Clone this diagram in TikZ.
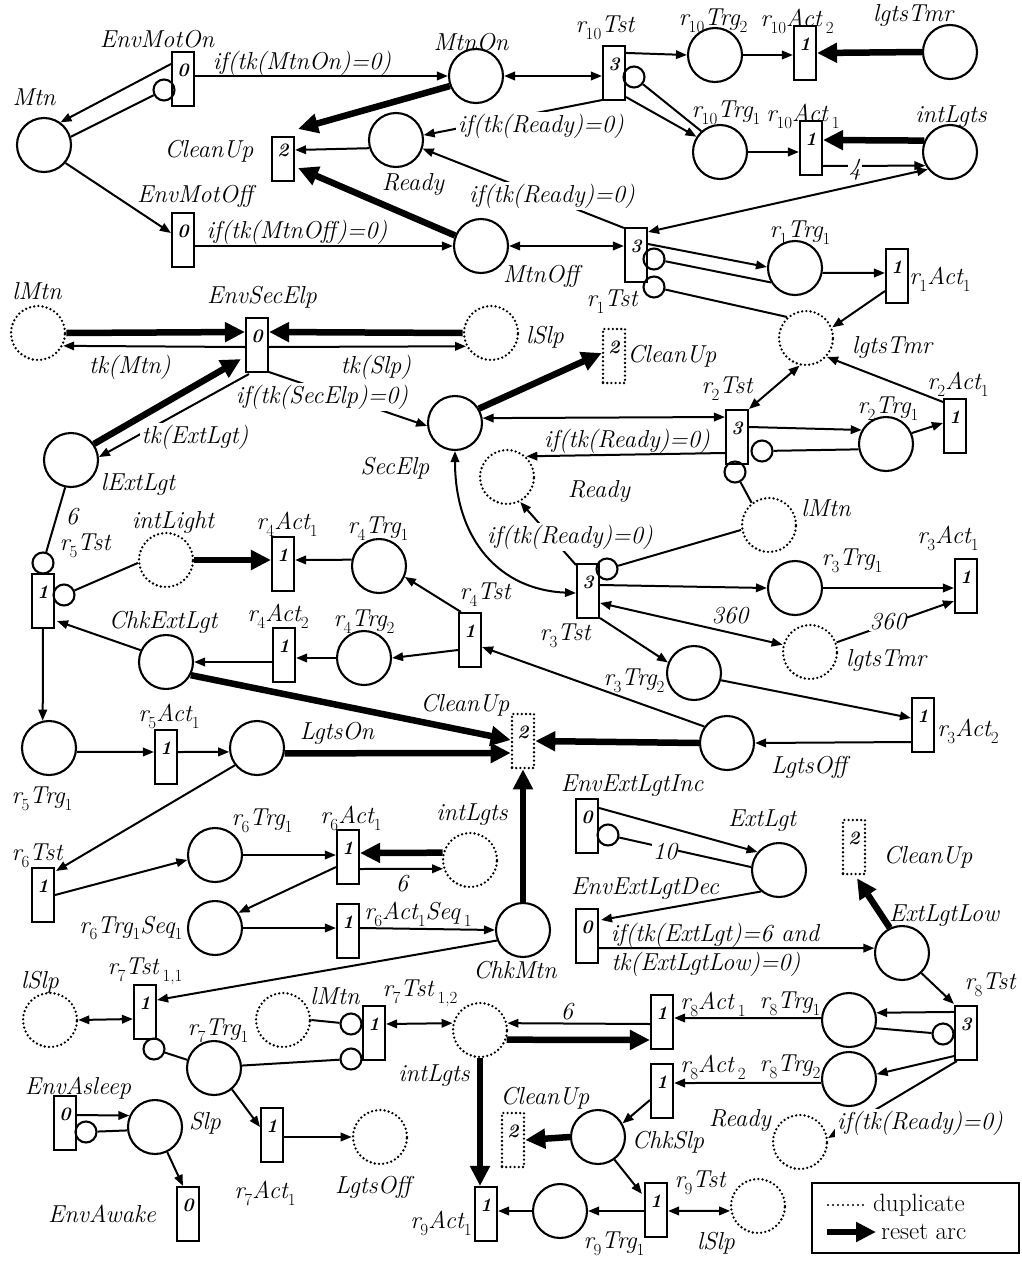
\documentclass[tikz,border=0pt]{standalone}
\usepackage{fontspec}
\usetikzlibrary{arrows.meta,calc}
\newcommand\subs[1]{\raisebox{-0.28em}{\fontsize{17}{17}\selectfont\upshape #1}}
\tikzset{
 place/.style={draw, circle, minimum size=54pt, inner sep=0pt, line width=2.1pt},
 dplace/.style={place, dash pattern=on 0pt off 4.2pt, line cap=round, line width=2.6pt},
 trans/.style={draw, rectangle, minimum width=22pt, minimum height=54pt, inner sep=0pt, line width=2.1pt, font=\fontsize{19}{19}\selectfont\bfseries\itshape, text height=7pt, text depth=12pt},
 dtrans/.style={trans, dash pattern=on 0pt off 4.2pt, line cap=round, line width=2.6pt},
 inh/.style={draw, circle, minimum size=21pt, inner sep=0pt, line width=2.1pt},
 lab/.style={font=\fontsize{24.5}{27}\selectfont\itshape, inner sep=1pt},
 wlab/.style={lab, fill=white, inner sep=2pt},
 legt/.style={font=\fontsize{25}{27}\selectfont, inner sep=0pt},
 aline/.style={line width=2pt},
 aarr/.style={aline, -{Triangle[length=11pt,width=8.5pt]}},
 adbl/.style={aline, {Triangle[length=11pt,width=8.5pt]}-{Triangle[length=11pt,width=8.5pt]}},
 areset/.style={line width=6.5pt, -{Triangle[length=20pt,width=19pt]}},
}
\begin{document}
\begin{tikzpicture}[x=1pt,y=-1pt]
\useasboundingbox (0,0) rectangle (1021,1261);
% ---------- places ----------
\node[place] (Mtn) at (44,145) {};
\node[place] (MtnOn) at (476,76) {};
\node[place] (MtnOff) at (481,246) {};
\node[place] (Ready) at (396,140) {};
\node[place] (r10Trg2) at (715,55) {};
\node[place] (lgtsTmrA) at (950,52) {};
\node[place] (r10Trg1) at (720,152) {};
\node[place] (intLgtsA) at (950,152) {};
\node[place] (r1Trg1) at (795,268) {};
\node[place] (SecElp) at (455,423) {};
\node[place] (r2Trg1) at (886,444) {};
\node[place] (lExtLgt) at (71,460) {};
\node[place] (r4Trg1) at (379,566) {};
\node[place] (r3Trg1) at (795,588) {};
\node[place] (r3Trg2) at (694,673) {};
\node[place] (r4Trg2) at (364,658) {};
\node[place] (ChkExtLgt) at (166,662) {};
\node[place] (LgtsOff) at (727,743) {};
\node[place] (r5Trg1) at (49,748) {};
\node[place] (LgtsOn) at (257,748) {};
\node[place] (r6Trg1) at (215,855) {};
\node[place] (ExtLgt) at (779,870) {};
\node[place] (r6Trg1Seq1) at (215,928) {};
\node[place] (ChkMtn) at (523,930) {};
\node[place] (ExtLgtLow) at (902,953) {};
\node[place] (r8Trg1) at (849,1020) {};
\node[place] (r8Trg2) at (849,1079) {};
\node[place] (r7Trg1) at (214,1068) {};
\node[place] (Slp) at (155,1127) {};
\node[place] (ChkSlp) at (598,1137) {};
\node[place] (r9Trg1) at (560,1211) {};
% ---------- duplicate places ----------
\node[dplace] (lMtnA) at (38,333) {};
\node[dplace] (lSlpA) at (491,333) {};
\node[dplace] (lgtsTmrB) at (806,338) {};
\node[dplace] (ReadyB) at (507,477) {};
\node[dplace] (lMtnB) at (769,525) {};
\node[dplace] (intLight) at (166,560) {};
\node[dplace] (lgtsTmrC) at (810,652) {};
\node[dplace] (intLgtsB) at (470,860) {};
\node[dplace] (lSlpB) at (50,1020) {};
\node[dplace] (lMtnC) at (283,1020) {};
\node[dplace] (intLgtsC) at (480,1030) {};
\node[dplace] (ReadyC) at (800,1142) {};
\node[dplace] (LgtsOffB) at (380,1137) {};
\node[dplace] (lSlpC) at (758,1206) {};
% ---------- transitions ----------
\node[trans] (EnvMotOn) at (183,79) {0};
\node[trans] (EnvMotOff) at (183,240) {0};
\node[trans, minimum height=44pt] (CleanUpA) at (283,159) {2};
\node[trans] (r10Tst) at (614,73) {3};
\node[trans] (r10Act2) at (805,53) {1};
\node[trans] (r10Act1) at (811,148) {1};
\node[trans] (r1Tst) at (636,255) {3};
\node[trans] (r1Act1) at (897,276) {1};
\node[trans] (EnvSecElp) at (257,345) {0};
\node[dtrans] (CleanUpB) at (614,356) {2};
\node[trans] (r2Tst) at (737,437) {3};
\node[trans] (r2Act1) at (955,426) {1};
\node[trans] (r5Tst) at (43,601) {1};
\node[trans] (r4Act1) at (283,564) {1};
\node[trans] (r3Tst) at (588,591) {3};
\node[trans] (r3Act1) at (966,586) {1};
\node[trans] (r4Tst) at (470,640) {1};
\node[trans] (r4Act2) at (284,655) {1};
\node[trans] (r3Act2) at (923,725) {1};
\node[dtrans] (CleanUpC) at (523,741) {2};
\node[trans] (r5Act1) at (166,757) {1};
\node[trans] (EnvExtLgtInc) at (587,826) {0};
\node[dtrans] (CleanUpD) at (854,847) {2};
\node[trans] (r6Tst) at (43,895) {1};
\node[trans] (r6Act1) at (348,857) {1};
\node[trans] (EnvExtLgtDec) at (587,936) {0};
\node[trans] (r6Act1Seq1) at (348,931) {1};
\node[trans] (r7Tst11) at (145,1012) {1};
\node[trans] (r7Tst12) at (374,1033) {1};
\node[trans] (r8Act1) at (662,1022) {1};
\node[trans] (r8Tst) at (966,1033) {3};
\node[trans] (r8Act2) at (662,1091) {1};
\node[trans] (r7Act1) at (272,1135) {1};
\node[trans] (EnvAsleep) at (65,1123) {0};
\node[dtrans] (CleanUpE) at (513,1140) {2};
\node[trans] (EnvAwake) at (188,1214) {0};
\node[trans] (r9Act1) at (486,1214) {1};
\node[trans] (r9Tst) at (656,1210) {1};
% ---------- inhibitor circles ----------
\node[inh] (iEnvMotOn) at (164,90) {};
\node[inh] (ir10) at (634,77) {};
\node[inh] (ir1a) at (654,259) {};
\node[inh] (ir1b) at (654,287) {};
\node[inh] (ir2a) at (762,451) {};
\node[inh] (ir2b) at (735,472) {};
\node[inh] (ir5a) at (43,563) {};
\node[inh] (ir5b) at (64,595) {};
\node[inh] (ir3) at (607,569) {};
\node[inh] (iEnvExt) at (608,835) {};
\node[inh] (ir7a) at (154,1049) {};
\node[inh] (ir7b) at (351,1024) {};
\node[inh] (ir7c) at (351,1059) {};
\node[inh] (ir8) at (943,1034) {};
\node[inh] (iEnvAsleep) at (86,1132) {};
% ---------- connectors ----------
\draw[aarr] ($(EnvMotOn.west)+(0,-15)$) -- (Mtn.54);
\draw[aline] (Mtn.17) -- (iEnvMotOn);
\draw[aarr] (Mtn.-40) -- ($(EnvMotOff.west)+(0,-7)$);
\draw[aarr] ($(EnvMotOn.east)+(0,-3)$) -- (MtnOn.west);
\draw[aarr] ($(EnvMotOff.east)+(0,6)$) -- (MtnOff.west);
\draw[areset] (MtnOn.201) -- ($(CleanUpA.north east)+(3,-7)$);
\draw[areset] (MtnOff.158) -- ($(CleanUpA.east)+(3,9)$);
\draw[aarr] (Ready.197) -- ($(CleanUpA.east)+(0,-9)$);
\draw[adbl] (MtnOn.east) -- ($(r10Tst.west)+(0,3)$);
\draw[aarr] ($(r10Tst.south west)+(0,-1)$) -- (Ready.10);
\draw[aarr] ($(r10Tst.north east)+(0,8)$) -- (r10Trg2.west);
\draw[aarr] (r10Trg2.east) -- ($(r10Act2.west)+(0,2)$);
\draw[areset] (lgtsTmrA.west) -- (r10Act2.east);
\draw[aarr] ($(r10Tst.south east)+(0,-4)$) -- (r10Trg1.147);
\draw[aline] (ir10) -- (r10Trg1.132);
\draw[aarr] (r10Trg1.east) -- ($(r10Act1.west)+(0,4)$);
\draw[areset] (intLgtsA.156) -- ($(r10Act1.east)+(0,-8)$);
\draw[aarr] ($(r10Act1.east)+(0,18)$) -- (intLgtsA.209);
\draw[adbl] (MtnOff.east) -- ($(r1Tst.west)+(0,-9)$);
\draw[aarr] ($(r1Tst.north west)+(0,1)$) -- (Ready.-18);
\draw[adbl] ($(r1Tst.north east)+(0,5)$) -- (intLgtsA.218);
\draw[aarr] ($(r1Tst.east)+(0,-11)$) -- (r1Trg1.178);
\draw[aline] (ir1a) -- (r1Trg1.211);
\draw[aarr] (r1Trg1.-10) -- ($(r1Act1.west)+(0,-3)$);
\draw[aline] (ir1b) -- (lgtsTmrB.132);
\draw[aarr] ($(r1Act1.south west)+(0,-13)$) -- (lgtsTmrB.22);
\draw[areset] (lMtnA.east) -- ($(EnvSecElp.west)+(0,-13)$);
\draw[aarr] ($(EnvSecElp.west)+(0,2)$) -- (lMtnA.-27);
\draw[areset] (lSlpA.west) -- ($(EnvSecElp.east)+(0,-13)$);
\draw[aarr] ($(EnvSecElp.east)+(0,2)$) -- (lSlpA.208);
\draw[aarr] ($(EnvSecElp.south east)+(0,-1)$) -- (SecElp.186);
\draw[areset] (lExtLgt.35) -- ($(EnvSecElp.south west)+(-4,-14)$);
\draw[aarr] ($(EnvSecElp.south west)+(4,1)$) -- (lExtLgt.6);
\draw[areset] (SecElp.31) -- ($(CleanUpB.west)+(0,-3)$);
\draw[adbl] (SecElp.10) -- ($(r2Tst.west)+(0,-20)$);
\draw[aarr] ($(r2Tst.west)+(0,16)$) -- (ReadyB.47);
\draw[adbl] (r2Tst.north east) -- (lgtsTmrB.-103);
\draw[aarr] ($(r2Tst.east)+(0,-10)$) -- (r2Trg1.150);
\draw[aline] (ir2a) -- (r2Trg1.191);
\draw[aarr] (r2Trg1.23) -- ($(r2Act1.west)+(0,-3)$);
\draw[aarr] ($(r2Act1.north west)+(0,4)$) -- (lgtsTmrB.-42);
\draw[aline] (ir2b) -- (lMtnB.128);
\draw[aline] (lMtnB.190) -- (ir3);
\draw[aarr] ($(r3Tst.north west)+(0,2)$) -- (ReadyB.-62);
\draw[adbl] (SecElp.south) .. controls (455,540) and (500,590) .. ($(r3Tst.west)+(0,2)$);
\draw[aarr] ($(r3Tst.east)+(0,-6)$) -- (r3Trg1.west);
\draw[aarr] (r3Trg1.east) -- ($(r3Act1.west)+(0,2)$);
\draw[adbl] ($(r3Tst.east)+(0,12)$) -- (lgtsTmrC.165);
\draw[aarr] (lgtsTmrC.20) -- ($(r3Act1.south west)+(0,-13)$);
\draw[aarr] ($(r3Tst.south east)+(0,-1)$) -- (r3Trg2.158);
\draw[aarr] (r3Trg2.-15) -- ($(r3Act2.west)+(0,-7)$);
\draw[aarr] ($(r3Act2.west)+(0,17)$) -- (LgtsOff.east);
\draw[aarr] (LgtsOff.144) -- ($(r4Tst.east)+(0,7)$);
\draw[areset] (LgtsOff.west) -- (CleanUpC.east);
\draw[areset] (ChkExtLgt.-28) -- ($(CleanUpC.west)+(0,-1)$);
\draw[areset] (LgtsOn.-11) -- ($(CleanUpC.west)+(0,12)$);
\draw[areset] (ChkMtn.north) -- (CleanUpC.south);
\draw[aarr] ($(r4Tst.north west)+(3,0)$) -- (r4Trg1.-23);
\draw[aarr] (r4Trg1.167) -- ($(r4Act1.east)+(0,-4)$);
\draw[areset] (intLight.east) -- ($(r4Act1.west)+(0,-4)$);
\draw[aarr] ($(r4Tst.west)+(0,10)$) -- (r4Trg2.east);
\draw[aarr] (r4Trg2.west) -- ($(r4Act2.east)+(0,3)$);
\draw[aarr] ($(r4Act2.west)+(0,7)$) -- (ChkExtLgt.east);
\draw[aarr] (ChkExtLgt.155) -- ($(r5Tst.south east)+(2,-8)$);
\draw[aline] (lExtLgt.-102) -- (ir5a);
\draw[aline] (ir5b) -- (intLight.186);
\draw[aarr] (r5Tst.south) -- (r5Trg1.103);
\draw[aarr] (r5Trg1.-8) -- ($(r5Act1.west)+(0,-5)$);
\draw[aarr] ($(r5Act1.east)+(0,-5)$) -- (LgtsOn.188);
\draw[aarr] (LgtsOn.-142) -- ($(r6Tst.north east)+(1,4)$);
\draw[aarr] (r6Tst.east) -- (r6Trg1.190);
\draw[aarr] (r6Trg1.east) -- ($(r6Act1.west)+(0,-2)$);
\draw[areset] (intLgtsB.165) -- ($(r6Act1.east)+(0,-4)$);
\draw[aarr] ($(r6Act1.east)+(0,12)$) -- (intLgtsB.198);
\draw[aarr] ($(r6Act1.south west)+(0,-18)$) -- (r6Trg1Seq1.33);
\draw[aarr] (r6Trg1Seq1.east) -- ($(r6Act1Seq1.west)+(0,-3)$);
\draw[aarr] ($(r6Act1Seq1.east)+(0,-3)$) -- (ChkMtn.west);
\draw[aarr] (ChkMtn.202) -- ($(r7Tst11.east)+(0,-12)$);
\draw[adbl] (lSlpB.east) -- ($(r7Tst11.west)+(0,7)$);
\draw[aline] (ir7a) -- (r7Trg1.163);
\draw[aline] (r7Trg1.5) -- (ir7c);
\draw[aline] (lMtnC.east) -- (ir7b);
\draw[adbl] ($(r7Tst12.east)+(0,-9)$) -- (intLgtsC.166);
\draw[aarr] ($(r8Act1.west)+(0,2)$) -- (intLgtsC.14);
\draw[areset] (intLgtsC.-20) -- ($(r8Act1.west)+(0,18)$);
\draw[areset] (intLgtsC.south) -- (intLgtsC.south |- r9Act1.north);
\draw[aarr] (r9Trg1.west) -- ($(r9Act1.east)+(0,-3)$);
\draw[aarr] ($(r9Tst.west)+(0,1)$) -- (r9Trg1.east);
\draw[adbl] ($(r9Tst.east)+(0,1)$) -- (lSlpC.190);
\draw[aarr] (ChkSlp.-54) -- ($(r9Tst.north west)+(-2,12)$);
\draw[areset] (ChkSlp.west) -- (CleanUpE.east);
\draw[aarr] ($(r8Act2.west)+(0,9)$) -- (ChkSlp.29);
\draw[aarr] (r8Trg1.176) -- ($(r8Act1.east)+(0,-4)$);
\draw[aarr] (r8Trg2.188) -- ($(r8Act2.east)+(0,-8)$);
\draw[aarr] ($(r8Tst.north west)+(0,7)$) -- (r8Trg1.15);
\draw[aline] (ir8) -- (r8Trg1.-17);
\draw[aarr] ($(r8Tst.south west)+(0,-5)$) -- (r8Trg2.10);
\draw[aarr] ($(r8Tst.south west)+(3,0)$) -- (ReadyC.8);
\draw[aarr] (ExtLgtLow.-46) -- ($(r8Tst.north west)+(0,-1)$);
\draw[areset] (ExtLgtLow.116) -- ($(CleanUpD.south)+(3,3)$);
\draw[aarr] ($(EnvExtLgtInc.north east)+(0,10)$) -- (ExtLgt.140);
\draw[aline] (iEnvExt) -- (ExtLgt.174);
\draw[aarr] (ExtLgt.-130) -- ($(EnvExtLgtDec.north east)+(2,12)$);
\draw[aarr] ($(EnvExtLgtDec.east)+(0,12)$) -- (ExtLgtLow.170);
\draw[aarr] (r7Trg1.-50) -- ($(r7Act1.west)+(0,-8)$);
\draw[aarr] ($(r7Act1.east)+(0,2)$) -- (LgtsOffB.west);
\draw[aarr] ($(EnvAsleep.east)+(0,-8)$) -- (Slp.156);
\draw[aline] (iEnvAsleep) -- (Slp.187);
\draw[aarr] (Slp.-64) -- ($(EnvAwake.north)+(-5,0)$);
% ---------- labels ----------
\node[lab] (tMtn) at (34,97) {Mtn};
\node[lab] (tEnvMotOn) at (157,39) {EnvMotOn};
\node[lab] (tCleanUpA) at (209,151) {CleanUp};
\node[lab] (tEnvMotOff) at (195,196) {EnvMotOff};
\node[lab] (tIfMtnOn) at (302,63) {if(tk(MtnOn)=0)};
\node[lab] (tIfMtnOff) at (297,232) {if(tk(MtnOff)=0)};
\node[lab] (tMtnOn) at (471,42) {MtnOn};
\node[lab] (tReady) at (413,184) {Ready};
\node[lab] (tMtnOff) at (541,276) {MtnOff};
\node[wlab] (tIfReadyA) at (541,126) {if(tk(Ready)=0)};
\node[wlab] (tIfReadyB) at (552,196) {if(tk(Ready)=0)};
\node[lab] (tr10Tst) at (605,28) {r\subs{10}Tst};
\node[lab] (tr10Trg2) at (713,21) {r\subs{10}Trg\subs{2}};
\node[lab] (tr10Act2) at (797,21) {r\subs{10}Act\,\subs{2}};
\node[lab] (tlgtsTmrA) at (913,15) {lgtsTmr};
\node[lab] (tr10Trg1) at (726,113) {r\subs{10}Trg\subs{1}};
\node[lab] (tr10Act1) at (803,116) {r\subs{10}Act\,\subs{1}};
\node[lab] (tintLgtsA) at (951,117) {intLgts};
\node[wlab, inner sep=1pt] (tFour) at (855,170) {4};
\node[lab] (tr1Trg1) at (800,233) {r\subs{1}Trg\subs{1}};
\node[lab] (tr1Act1) at (940,279) {r\subs{1}Act\subs{1}};
\node[lab] (tr1Tst) at (612,302) {r\subs{1}Tst};
\node[lab] (tlMtnA) at (37,291) {lMtn};
\node[lab] (tEnvSecElp) at (262,297) {EnvSecElp};
\node[lab] (ttkMtn) at (130,367) {tk(Mtn)};
\node[lab] (ttkSlp) at (376,367) {tk(Slp)};
\node[lab] (tlSlpA) at (545,337) {lSlp};
\node[wlab] (tIfSecElp) at (322,397) {if(tk(SecElp)=0)};
\node[wlab] (ttkExtLgt) at (195,437) {tk(ExtLgt)};
\node[lab] (tlExtLgt) at (138,484) {lExtLgt};
\node[lab] (tCleanUpB) at (672,356) {CleanUp};
\node[lab] (tSecElp) at (395,468) {SecElp};
\node[lab] (tlgtsTmrB) at (892,347) {lgtsTmr};
\node[lab] (tr2Act1) at (958,384) {r\subs{2}Act\subs{1}};
\node[lab] (tr2Tst) at (727,389) {r\subs{2}Tst};
\node[lab] (tr2Trg1) at (888,409) {r\subs{2}Trg\subs{1}};
\node[lab] (tIfReadyC) at (627,441) {if(tk(Ready)=0)};
\node[lab] (tReadyB) at (599,491) {Ready};
\node[lab] (tlMtnB) at (826,508) {lMtn};
\node[wlab] (tIfReadyD) at (570,537) {if(tk(Ready)=0)};
\node[lab] (tr3Act1) at (948,538) {r\subs{3}Act\subs{1}};
\node[lab] (tr3Trg1) at (852,561) {r\subs{3}Trg\subs{1}};
\node[lab] (tr3Tst) at (565,636) {r\subs{3}Tst};
\node[lab] (t360a) at (730,616) {360};
\node[wlab, inner sep=1pt] (t360b) at (888,622) {360};
\node[lab] (tlgtsTmrC) at (886,660) {lgtsTmr};
\node[lab] (tr3Trg2) at (634,681) {r\subs{3}Trg\subs{2}};
\node[lab] (tr3Act2) at (968,731) {r\subs{3}Act\subs{2}};
\node[lab] (tLgtsOff) at (809,767) {LgtsOff};
\node[lab] (tSix1) at (72,517) {6};
\node[lab] (tr5Tst) at (85,546) {r\subs{5}Tst};
\node[lab] (tintLight) at (173,522) {intLight};
\node[lab] (tr4Act1) at (287,524) {r\subs{4}Act\subs{1}};
\node[lab] (tr4Trg1) at (378,529) {r\subs{4}Trg\subs{1}};
\node[lab] (tr4Tst) at (485,595) {r\subs{4}Tst};
\node[lab] (tChkExtLgt) at (163,622) {ChkExtLgt};
\node[lab] (tr4Act2) at (278,616) {r\subs{4}Act\subs{2}};
\node[lab] (tr4Trg2) at (364,622) {r\subs{4}Trg\subs{2}};
\node[lab] (tCleanUpC) at (465,705) {CleanUp};
\node[lab] (tr5Act1) at (169,716) {r\subs{5}Act\subs{1}};
\node[lab] (tLgtsOn) at (337,733) {LgtsOn};
\node[lab] (tr5Trg1) at (42,799) {r\subs{5}Trg\subs{1}};
\node[lab] (tr6Tst) at (37,856) {r\subs{6}Tst};
\node[lab] (tr6Trg1) at (262,821) {r\subs{6}Trg\subs{1}};
\node[lab] (tr6Act1) at (351,818) {r\subs{6}Act\subs{1}};
\node[lab] (tintLgtsB) at (472,815) {intLgts};
\node[lab] (tSix2) at (402,884) {6};
\node[lab] (tEnvExtLgtInc) at (632,786) {EnvExtLgtInc};
\node[lab] (tExtLgt) at (762,821) {ExtLgt};
\node[wlab, inner sep=1pt] (tTen) at (665,852) {10};
\node[lab] (tCleanUpD) at (928,857) {CleanUp};
\node[lab] (tEnvExtLgtDec) at (645,889) {EnvExtLgtDec};
\node[lab] (tExtLgtLow) at (944,916) {ExtLgtLow};
\node[lab] (tIfExtA) at (715,935) {if(tk(ExtLgt)=6 and};
\node[lab] (tIfExtB) at (706,964) {tk(ExtLgtLow)=0)};
\node[lab] (tr6Trg1Seq1) at (131,928) {r\subs{6}Trg\subs{1}Seq\subs{1}};
\node[lab] (tr6Act1Seq1) at (418,914) {r\subs{6}Act\subs{1}Seq\,\subs{1}};
\node[lab] (tChkMtn) at (515,970) {ChkMtn};
\node[lab] (tlSlpB) at (40,982) {lSlp};
\node[lab] (tr7Tst11) at (145,971) {r\subs{7}Tst\,\subs{1,1}};
\node[lab] (tlMtnC) at (335,996) {lMtn};
\node[lab] (tr7Tst12) at (420,993) {r\subs{7}Tst\,\subs{1,2}};
\node[lab] (tr7Trg1) at (218,1031) {r\subs{7}Trg\subs{1}};
\node[lab] (tSix3) at (567,1012) {6};
\node[lab] (tintLgtsC) at (434,1076) {intLgts};
\node[lab] (tr8Act1) at (713,1004) {r\subs{8}Act\,\subs{1}};
\node[lab] (tr8Trg1) at (790,1004) {r\subs{8}Trg\subs{1}};
\node[lab] (tr8Tst) at (990,985) {r\subs{8}Tst};
\node[lab] (tr8Act2) at (713,1067) {r\subs{8}Act\,\subs{2}};
\node[lab] (tr8Trg2) at (790,1067) {r\subs{8}Trg\subs{2}};
\node[lab] (tEnvAsleep) at (78,1088) {EnvAsleep};
\node[lab] (tSlp) at (205,1123) {Slp};
\node[lab] (tCleanUpE) at (545,1098) {CleanUp};
\node[lab] (tChkSlp) at (668,1142) {ChkSlp};
\node[lab] (tReadyC) at (740,1120) {Ready};
\node[wlab] (tIfReadyE) at (920,1123) {if(tk(Ready)=0)};
\node[lab] (tr7Act1) at (265,1193) {r\subs{7}Act\subs{1}};
\node[lab] (tLgtsOffB) at (373,1187) {LgtsOff};
\node[lab] (tEnvAwake) at (102,1214) {EnvAwake};
\node[lab] (tr9Act1) at (441,1223) {r\subs{9}Act\subs{1}};
\node[lab] (tr9Tst) at (700,1183) {r\subs{9}Tst};
\node[lab] (tr9Trg1) at (614,1244) {r\subs{9}Trg\subs{1}};
\node[lab] (tlSlpC) at (716,1243) {lSlp};
% ---------- legend ----------
\node[draw, line width=2pt, minimum width=207pt, minimum height=70pt, inner sep=0pt] (legend) at (915.5,1218) {};
\coordinate (lgA1) at (828,1205);
\coordinate (lgA2) at (867,1205);
\draw[dash pattern=on 0pt off 5pt, line cap=round, line width=2.2pt] (lgA1) -- (lgA2);
\node[legt, anchor=west] (lgT1) at (873,1205) {duplicate};
\coordinate (lgB1) at (827,1232);
\coordinate (lgB2) at (876,1232);
\draw[areset] (lgB1) -- (lgB2);
\node[legt, anchor=west] (lgT2) at (881,1232) {reset arc};
\end{tikzpicture}
\end{document}
